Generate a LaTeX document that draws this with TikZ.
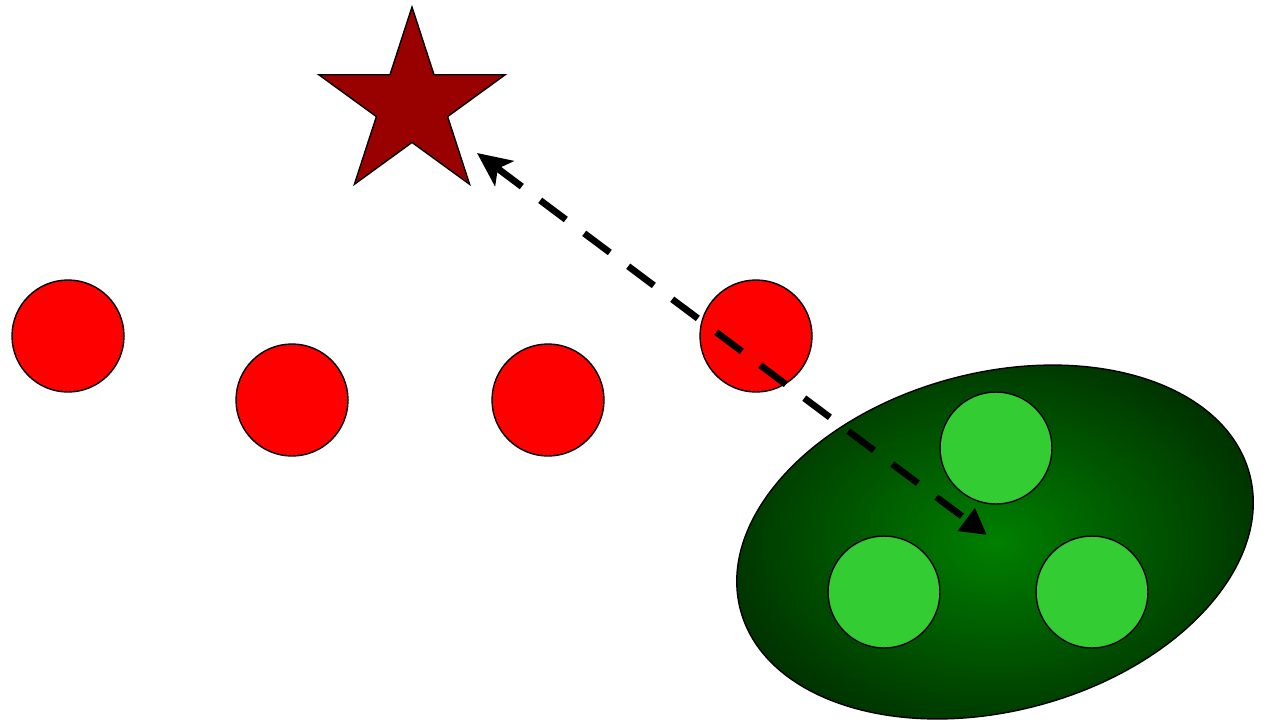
\documentclass[tikz,border=0pt]{standalone}
\usepackage{tikz}
\usetikzlibrary{positioning,arrows.meta,shapes.geometric}
\definecolor{dotred}{RGB}{255,0,0}
\definecolor{stardark}{RGB}{153,0,0}
\definecolor{memgreen}{RGB}{51,204,51}
\definecolor{groupin}{RGB}{0,128,0}
\definecolor{groupout}{RGB}{0,50,0}

\begin{document}
\begin{tikzpicture}[x=0.02cm,y=-0.02cm,
dot/.style={circle,draw,line width=0.8pt,minimum size=2.24cm,inner sep=0pt},
arr/.style={{Stealth[length=0.68cm,width=0.62cm,inset=0.16cm]}-{Triangle[length=0.52cm,width=0.54cm]},line width=3.8pt,dash pattern=on 0.64cm off 0.46cm}]
\useasboundingbox (0,0) rectangle (1266,721);
\node[star,star points=5,star point ratio=2.618,minimum size=3.92cm,inner sep=0pt,draw,line width=0.8pt,fill=stardark] (s) at (412,105) {};
\node[dot,fill=dotred] (r1) at (68,336) {};
\node[dot,fill=dotred] (r2) at (292,400) {};
\node[dot,fill=dotred] (r3) at (548,400) {};
\node[dot,fill=dotred] (r4) at (756,336) {};
\node[ellipse,draw,line width=0.8pt,rotate=15,minimum width=10.54cm,minimum height=6.76cm,inner color=groupin,outer color=groupout] (g) at (995,542) {};
\node[dot,fill=memgreen] (g1) at (996,448) {};
\node[dot,fill=memgreen] (g2) at (884,592) {};
\node[dot,fill=memgreen] (g3) at (1092,592) {};
\coordinate (a) at (477,153);
\coordinate (b) at (987,535);
\draw[arr] (a) -- (b);
\end{tikzpicture}
\end{document}
